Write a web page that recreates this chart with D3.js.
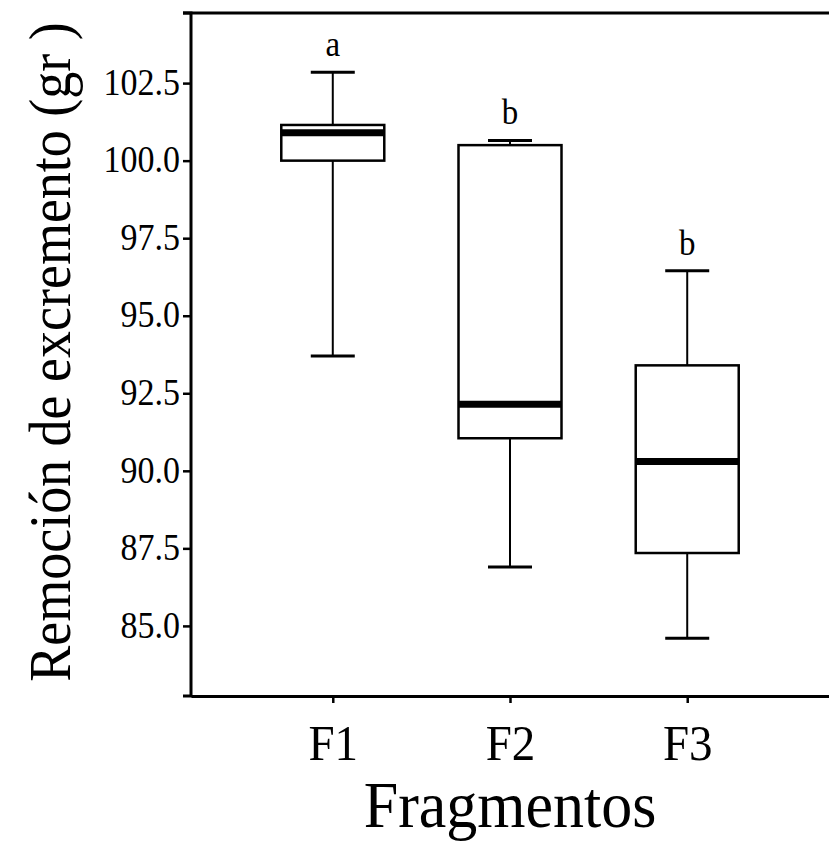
<!DOCTYPE html>
<html>
<head>
<meta charset="utf-8">
<script src="https://cdn.jsdelivr.net/npm/d3@7"></script>
<style>
  body { margin: 0; background: #fff; }
  #chart { width: 829px; height: 845px; }
  text { font-family: "Liberation Serif", "Times New Roman", serif; fill: #000; }
</style>
</head>
<body>
<div id="chart"></div>
<script>
// datos
const fragmentos = ["F1", "F2", "F3"];
const minimos = [93.7, 86.9, 84.6];
const q1 = [100.0, 91.05, 87.35];
const medianas = [100.9, 92.15, 90.3];
const q3 = [101.15, 100.5, 93.4];
const maximos = [102.85, 100.65, 96.45];
const letras = ["a", "b", "b"];
const yTicks = [85.0, 87.5, 90.0, 92.5, 95.0, 97.5, 100.0, 102.5];

const width = 829, height = 845;
const margins = { top: 13, right: 0, bottom: 149, left: 191 };
const plotW = width - margins.left - margins.right;
const plotH = height - margins.top - margins.bottom;
const estirar = 1.1; // el texto original esta algo estirado en vertical

const svg = d3.select("#chart")
  .append("svg")
  .attr("width", width)
  .attr("height", height);

const g = svg.append("g")
  .attr("transform", `translate(${margins.left}, ${margins.top})`);

// escaladores
const x = d3.scalePoint().domain(fragmentos).range([0, plotW]).padding(0.8);
const y = d3.scaleLinear().domain([82.74, 104.76]).range([plotH, 0]);

const boxW = 103, capW = 44;

const data = fragmentos.map((f, i) => ({
  f, min: minimos[i], q1: q1[i], med: medianas[i], q3: q3[i], max: maximos[i], letra: letras[i]
}));

const box = g.selectAll(".box").data(data).enter().append("g").attr("class", "box");

// bigotes
box.append("line")
  .attr("x1", d => x(d.f)).attr("x2", d => x(d.f))
  .attr("y1", d => y(d.q3)).attr("y2", d => y(d.max))
  .attr("stroke", "#000").attr("stroke-width", 2);
box.append("line")
  .attr("x1", d => x(d.f)).attr("x2", d => x(d.f))
  .attr("y1", d => y(d.q1)).attr("y2", d => y(d.min))
  .attr("stroke", "#000").attr("stroke-width", 2);
box.append("line")
  .attr("x1", d => x(d.f) - capW / 2).attr("x2", d => x(d.f) + capW / 2)
  .attr("y1", d => y(d.max)).attr("y2", d => y(d.max))
  .attr("stroke", "#000").attr("stroke-width", 3);
box.append("line")
  .attr("x1", d => x(d.f) - capW / 2).attr("x2", d => x(d.f) + capW / 2)
  .attr("y1", d => y(d.min)).attr("y2", d => y(d.min))
  .attr("stroke", "#000").attr("stroke-width", 3);

box.append("rect")
  .attr("x", d => x(d.f) - boxW / 2)
  .attr("y", d => y(d.q3))
  .attr("width", boxW)
  .attr("height", d => y(d.q1) - y(d.q3))
  .attr("fill", "#fff")
  .attr("stroke", "#000")
  .attr("stroke-width", 2.5);

// mediana
box.append("line")
  .attr("x1", d => x(d.f) - boxW / 2).attr("x2", d => x(d.f) + boxW / 2)
  .attr("y1", d => y(d.med)).attr("y2", d => y(d.med))
  .attr("stroke", "#000").attr("stroke-width", 7);

// letras de significancia
box.append("text")
  .attr("transform", d => `translate(${x(d.f)}, ${y(d.max) - 16}) scale(1, ${estirar})`)
  .attr("text-anchor", "middle")
  .attr("font-size", 33)
  .text(d => d.letra);

// ejes
const yAxis = g.append("g")
  .call(d3.axisLeft(y).tickValues(yTicks).tickFormat(d3.format(".1f")).tickSize(8).tickSizeOuter(8));
yAxis.selectAll("text")
  .attr("font-size", 34).attr("x", -11).attr("dy", "0.3em")
  .attr("transform", `scale(1, ${estirar})`);

const xAxis = g.append("g")
  .attr("transform", `translate(0, ${plotH})`)
  .call(d3.axisBottom(x).tickSize(7).tickSizeOuter(0));
xAxis.selectAll("text")
  .attr("font-size", 47).attr("y", 0).attr("dy", 0)
  .attr("transform", `translate(0, 64) scale(1, ${estirar})`);

g.selectAll(".domain").attr("stroke", "#000").attr("stroke-width", 3);
g.selectAll(".tick line").attr("stroke", "#000").attr("stroke-width", 2.5);
yAxis.select(".domain").attr("d", `M-8,0H0V${plotH}H-8`);

// linea superior
g.append("line")
  .attr("x1", -8).attr("x2", plotW)
  .attr("y1", 0).attr("y2", 0)
  .attr("stroke", "#000").attr("stroke-width", 3);

// titulos
svg.append("text")
  .attr("transform", `translate(${margins.left + x("F2")}, 827) scale(1, 1.05)`)
  .attr("text-anchor", "middle")
  .attr("font-size", 62)
  .text("Fragmentos");

svg.append("g")
  .attr("transform", `translate(70, 352)`)
  .append("text")
  .attr("transform", `rotate(-90) scale(1, ${estirar})`)
  .attr("text-anchor", "middle")
  .attr("font-size", 54)
  .text("Remoción de excremento (gr )");
</script>
</body>
</html>
